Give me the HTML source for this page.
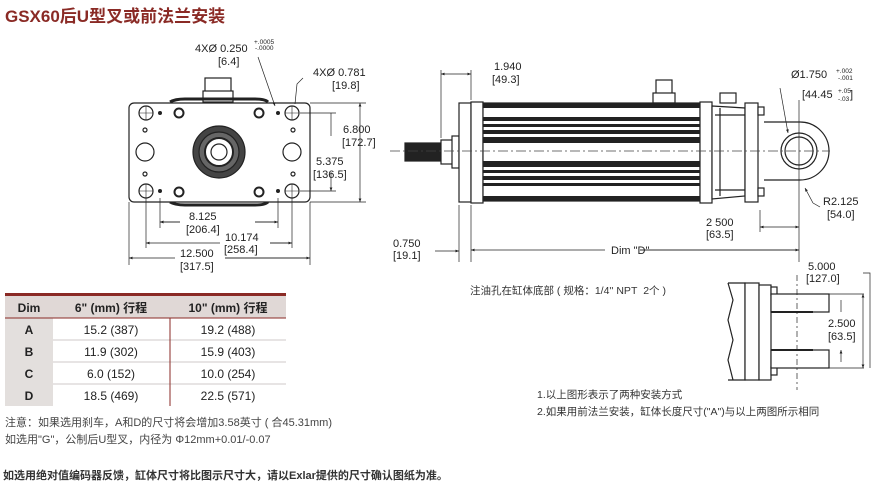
<!DOCTYPE html>
<html><head><meta charset="utf-8"><style>
body{margin:0;background:#fff;width:892px;height:489px;overflow:hidden}
svg{display:block}
text{font-family:"Liberation Sans","Noto Sans CJK SC",sans-serif;fill:#222}
</style></head><body>
<svg width="892" height="489" viewBox="0 0 892 489" xmlns="http://www.w3.org/2000/svg">
<defs>
<marker id="a" viewBox="0 0 10 10" refX="10" refY="5" markerWidth="8" markerHeight="5" orient="auto-start-reverse"><path d="M0,1L10,5L0,9z" fill="#222"/></marker>
</defs>
<text x="5" y="22" font-size="17" font-weight="bold" style="fill:#8a2a25">GSX60后U型叉或前法兰安装</text>

<!-- front view -->
<g stroke="#222" fill="none" stroke-width="1.2">
<rect x="205" y="78" width="26" height="14" fill="#fff"/>
<rect x="203" y="91" width="30" height="11" fill="#fff"/>
<path d="M170 102 Q175 99 185 99 L255 99 Q265 99 268 102" stroke-width="3"/>
<path d="M170 202 Q175 205 185 205 L255 205 Q265 205 268 202" stroke-width="3"/>
<rect x="129" y="103" width="181" height="99" rx="5" fill="#fff"/>
<circle cx="219" cy="152" r="26" fill="#444"/>
<circle cx="219" cy="152" r="20" fill="#666"/>
<circle cx="219" cy="152" r="14" fill="#fff" stroke-width="2"/>
<circle cx="219" cy="152" r="8" fill="#fff"/>
<g stroke-width="1.2">
<circle cx="146" cy="113" r="7"/><circle cx="292" cy="113" r="7"/>
<circle cx="146" cy="191" r="7"/><circle cx="292" cy="191" r="7"/>
<path d="M139 113h14M146 106v14M285 113h14M292 106v14M139 191h14M146 184v14M285 191h14M292 184v14" stroke-width=".6"/>
<circle cx="179" cy="113" r="4.5" stroke-width="2"/><circle cx="259" cy="113" r="4.5" stroke-width="2"/>
<circle cx="179" cy="192" r="4.5" stroke-width="2"/><circle cx="259" cy="192" r="4.5" stroke-width="2"/>
<circle cx="145" cy="152" r="9"/><circle cx="292" cy="152" r="9"/>
<circle cx="145" cy="130" r="2"/><circle cx="145" cy="174" r="2"/><circle cx="293" cy="130" r="2"/><circle cx="293" cy="174" r="2"/>
</g>
<g fill="#222" stroke="none"><circle cx="160" cy="113" r="2"/><circle cx="278" cy="113" r="2"/><circle cx="160" cy="191" r="2"/><circle cx="278" cy="191" r="2"/></g>
</g>
<g stroke="#222" stroke-width=".7" fill="none">
<path d="M310 103H366M300 113H336M300 191H336M310 202H366"/>
<path d="M360 103V202" marker-start="url(#a)" marker-end="url(#a)"/>
<path d="M331 113V125M331 179V191" marker-end="url(#a)"/>
<path d="M331 125V136M331 172V179" />
<path d="M129 202V265M310 202V265M146 198V248M292 198V248M160 198V228M278 198V228"/>
<path d="M160 222H180M255 222H278" marker-start="url(#a)"/>
<path d="M146 243H220M270 243H292" marker-start="url(#a)"/>
<path d="M160 222H180" marker-start="url(#a)"/>
<path d="M129 258H175M225 258H310" marker-start="url(#a)"/>
<path d="M255 222H278" marker-end="url(#a)"/>
<path d="M270 243H292" marker-end="url(#a)"/>
<path d="M225 258H310" marker-end="url(#a)"/>
<path d="M258 57L275 106" marker-end="url(#a)"/>
<path d="M303 78L297 84L295 104"/>
</g>
<g font-size="11">
<text x="195" y="52">4XØ 0.250</text><text x="254" y="44" font-size="6.5">+.0005</text><text x="255" y="50" font-size="6.5">-.0000</text>
<text x="218" y="65">[6.4]</text>
<text x="313" y="76">4XØ 0.781</text><text x="332" y="89">[19.8]</text>
<text x="343" y="133">6.800</text><text x="342" y="146">[172.7]</text>
<text x="316" y="165">5.375</text><text x="313" y="178">[136.5]</text>
<text x="189" y="220">8.125</text><text x="186" y="233">[206.4]</text>
<text x="225" y="241">10.174</text><text x="224" y="253">[258.4]</text>
<text x="180" y="257">12.500</text><text x="180" y="270">[317.5]</text>
</g>

<!-- side view -->
<g stroke="#222" fill="none" stroke-width="1.2">
<rect x="405" y="143" width="38" height="18" fill="#222"/>
<rect x="441" y="140" width="12" height="24" fill="#fff"/>
<rect x="452" y="136" width="7" height="32" fill="#fff"/>
<rect x="656" y="80" width="16" height="14" fill="#fff"/>
<rect x="653" y="93" width="22" height="10" fill="#fff"/>
<rect x="720" y="93" width="16" height="10" fill="#fff"/>
<rect x="459" y="103" width="12" height="99" fill="#fff"/>
<rect x="471" y="102" width="12" height="101" fill="#fff"/>
<rect x="483" y="103" width="217" height="98" fill="#fff"/>
<g stroke="none" fill="#222">
<rect x="483" y="103" width="217" height="5"/>
<rect x="483" y="117" width="217" height="4"/><rect x="483" y="124" width="217" height="3"/>
<rect x="483" y="130" width="217" height="4"/><rect x="483" y="137" width="217" height="6"/>
<rect x="483" y="161" width="217" height="6"/><rect x="483" y="170" width="217" height="3"/>
<rect x="483" y="176" width="217" height="4"/><rect x="483" y="183" width="217" height="3"/>
<rect x="483" y="196" width="217" height="5"/>
</g>
<rect x="700" y="102" width="12" height="101" fill="#fff"/>
<path d="M712 106L745 108V196L712 199z" fill="#fff"/>
<path d="M715 115H745M715 190H745M720 108V196"/>
<rect x="745" y="103" width="13" height="99" fill="#fff"/>
<rect x="758" y="107" width="6" height="8" fill="#fff"/><rect x="758" y="188" width="6" height="8" fill="#fff"/>
<path d="M764 122H800A29 29 0 0 1 800 180H764"/>
<circle cx="799" cy="151" r="18" fill="#fff"/>
<circle cx="799" cy="151" r="14"/>
</g>
<path d="M390 151H830" stroke="#444" stroke-width=".7" stroke-dasharray="10 3 2 3"/>
<g stroke="#222" stroke-width=".7" fill="none">
<path d="M441 70V138M471 70V100M459 205V262M471 205V262M760 210V232M799 100V262"/>
<path d="M441 74H471" marker-start="url(#a)" marker-end="url(#a)"/>
<path d="M435 251H459" marker-end="url(#a)"/>
<path d="M471 250H605M640 250H799" marker-start="url(#a)"/>
<path d="M640 250H799" marker-end="url(#a)"/>
<path d="M760 227H799" marker-start="url(#a)" marker-end="url(#a)"/>
<path d="M780 88L788 133" marker-end="url(#a)"/>
<path d="M813 203L805 188" marker-end="url(#a)"/><path d="M813 203L820 207"/>
</g>
<g font-size="11">
<text x="494" y="70">1.940</text><text x="492" y="83">[49.3]</text>
<text x="791" y="78">Ø1.750</text><text x="836" y="73" font-size="6.5">+.002</text><text x="838" y="80" font-size="6.5">-.001</text>
<text x="802" y="98">[44.45</text><text x="838" y="93" font-size="6.5">+.05</text><text x="838" y="101" font-size="6.5">-.03</text><text x="850" y="98">]</text>
<text x="823" y="205">R2.125</text><text x="827" y="218">[54.0]</text>
<text x="706" y="226">2 500</text><text x="706" y="238">[63.5]</text>
<text x="393" y="247">0.750</text><text x="393" y="259">[19.1]</text>
<text x="611" y="254">Dim "D"</text>
<text x="808" y="270">5.000</text><text x="806" y="282">[127.0]</text>
<text x="828" y="327">2.500</text><text x="828" y="340">[63.5]</text>
</g>
<text x="470" y="294" font-size="10.5" style="fill:#333">注油孔在缸体底部 ( 规格：1/4'' NPT&#160; 2个 )</text>

<!-- right lower figure -->
<g stroke="#222" fill="none" stroke-width="1.2">
<path d="M728 283H745V380H728" />
<path d="M728 283L733 300L728 320L733 340L728 360L733 380"/>
<rect x="745" y="283" width="14" height="97" fill="#fff"/>
<rect x="759" y="285" width="12" height="95" fill="#fff"/>
<rect x="771" y="287" width="6" height="8" fill="#fff"/><rect x="771" y="367" width="6" height="8" fill="#fff"/>
<rect x="771" y="294" width="58" height="18" fill="#fff"/>
<rect x="771" y="350" width="58" height="18" fill="#fff"/>
<path d="M771 312H813M771 350H813" stroke-width="2"/>
</g>
<g stroke="#222" stroke-width=".7" fill="none">
<path d="M797 275V390" stroke-dasharray="6 3 2 3"/>
<path d="M829 294H864M829 368H864M863 273H870V368"/>
<path d="M863 294V368" marker-start="url(#a)" marker-end="url(#a)"/>
<path d="M841 300V312M841 362V350" marker-end="url(#a)"/>
</g>
<g font-size="10.5" style="fill:#333"><text x="537" y="398" style="fill:#333">1.以上图形表示了两种安装方式</text>
<text x="537" y="415" style="fill:#333">2.如果用前法兰安装，缸体长度尺寸("A")与以上两图所示相同</text></g>

<!-- table -->
<rect x="5" y="293" width="281" height="3" fill="#8a2a25"/>
<rect x="5" y="296" width="281" height="22" fill="#e0d8d6"/>
<rect x="5" y="318" width="48" height="88" fill="#e3dfdd"/>
<g stroke="#cfcaca" stroke-width="1"><path d="M53 340H286M53 362H286M53 384H286"/></g>
<path d="M5 318H286" stroke="#8a2a25" stroke-width="1"/>
<path d="M170 318V406" stroke="#8a2a25" stroke-width="1"/>
<g font-size="12" text-anchor="middle" font-family="Liberation Sans Narrow, Liberation Sans, sans-serif">
<text x="29" y="312" font-weight="bold">Dim</text><text x="111" y="312" font-weight="bold">6" (mm) 行程</text><text x="228" y="312" font-weight="bold">10" (mm) 行程</text>
<text x="29" y="334" font-weight="bold">A</text><text x="111" y="334">15.2 (387)</text><text x="228" y="334">19.2 (488)</text>
<text x="29" y="356" font-weight="bold">B</text><text x="111" y="356">11.9 (302)</text><text x="228" y="356">15.9 (403)</text>
<text x="29" y="378" font-weight="bold">C</text><text x="111" y="378">6.0 (152)</text><text x="228" y="378">10.0 (254)</text>
<text x="29" y="400" font-weight="bold">D</text><text x="111" y="400">18.5 (469)</text><text x="228" y="400">22.5 (571)</text>
</g>
<text x="5" y="426" font-size="11" style="fill:#444">注意：如果选用刹车，A和D的尺寸将会增加3.58英寸 ( 合45.31mm)</text>
<text x="5" y="443" font-size="11" style="fill:#444">如选用"G"，公制后U型叉，内径为 Φ12mm+0.01/-0.07</text>
<text x="3" y="479" font-size="11" font-weight="bold" style="fill:#333">如选用绝对值编码器反馈，缸体尺寸将比图示尺寸大，请以Exlar提供的尺寸确认图纸为准。</text>
</svg>
</body></html>
